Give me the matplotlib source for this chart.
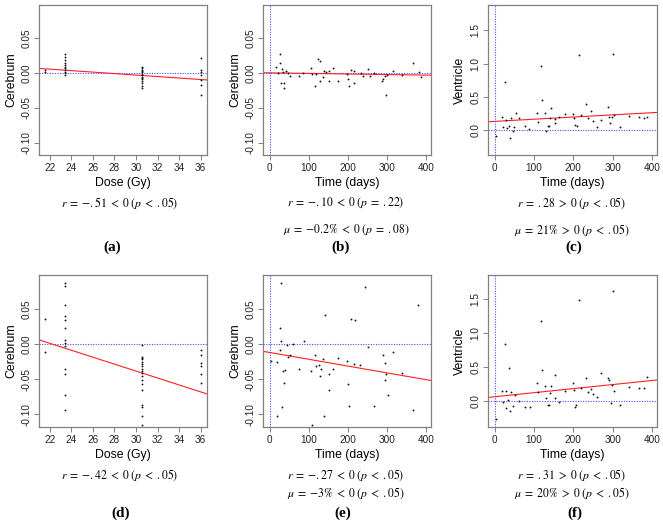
import numpy as np
import matplotlib
matplotlib.use("Agg")
import matplotlib.pyplot as plt

plt.rcParams['font.family'] = ['Liberation Sans', 'DejaVu Sans']
plt.rcParams['axes.unicode_minus'] = False
plt.rcParams['mathtext.fontset'] = 'stix'

# ---------------- data ----------------
# (a) Cerebrum vs dose
dose_a = [21.6, 21.6] + [23.4] * 11 + [30.6] * 14 + [36.0] * 7
cer_a = [0.005, 0.002,
         0.027, 0.0235, 0.019, 0.015, 0.012, 0.009, 0.007, 0.004, 0.002, 0.000, -0.003,
         0.009, 0.007, 0.005, 0.003, 0.001, -0.001, -0.003, -0.005, -0.007, -0.009, -0.012, -0.015, -0.019, -0.022,
         0.021, 0.004, 0.002, -0.003, -0.010, -0.017, -0.031]
fit_a = (0.0292, -0.00107)

# (d) Cerebrum vs dose
dose_d = [21.6] * 2 + [23.4] * 13 + [30.6] * 18 + [36.0] * 6
cer_d = [0.035, -0.012,
         0.087, 0.082, 0.056, 0.040, 0.034, 0.023, 0.005, 0.001, -0.003, -0.035, -0.043, -0.072, -0.094,
         -0.002, -0.018, -0.020, -0.022, -0.025, -0.028, -0.032, -0.035, -0.038, -0.041, -0.046, -0.051,
         -0.057, -0.065, -0.087, -0.089, -0.103, -0.115,
         -0.008, -0.016, -0.027, -0.032, -0.042, -0.055]
fit_d = (0.1097, -0.00494)

# (b) Cerebrum vs time
time_b = [17, 21, 26, 27, 28, 31, 34, 36, 38, 41, 47, 51, 74, 85, 105, 108, 117, 119, 125, 129,
          128, 136, 140, 145, 151, 153, 162, 176, 198, 200, 202, 207, 215, 217, 234, 238, 251, 258,
          268, 287, 291, 294, 298, 300, 315, 340, 366, 383, 387]
cer_b = [0.009, 0.0005, 0.027, 0.014, -0.015, 0.006, 0.002, -0.014, -0.022, 0.003, -0.0005, -0.004,
         -0.004, 0.0005, 0.007, -0.0015, -0.019, -0.0015, 0.020, 0.017, -0.012, -0.006, 0.003, 0.002,
         -0.011, 0.003, 0.008, -0.011, -0.0015, -0.008, -0.019, 0.005, -0.015, 0.003, -0.0005, -0.004,
         0.006, -0.004, 0.0005, -0.012, -0.008, -0.004, -0.031, -0.003, 0.003, -0.003, 0.015, 0.001, -0.006]
fit_b = (0.0003, -0.0000081)

# (e) Cerebrum vs time
time_e = [3, 19, 20, 26, 27, 28, 30, 31, 34, 37, 40, 44, 47, 51, 60, 74, 88, 106, 108, 117, 119, 126,
          128, 132, 136, 139, 142, 151, 153, 162, 176, 198, 200, 202, 207, 215, 219, 232, 244, 251,
          268, 289, 294, 296, 298, 302, 317, 340, 366, 380]
cer_e = [-0.024, -0.026, -0.103, -0.008, 0.022, 0.004, 0.087, -0.089, -0.038, -0.056, -0.037, -0.002,
         -0.019, -0.016, 0.0, -0.035, 0.004, -0.038, -0.115, -0.016, -0.032, -0.030, -0.045, -0.035,
         -0.021, -0.103, 0.041, -0.043, -0.065, -0.035, -0.020, -0.024, -0.057, -0.088, 0.035, -0.028,
         0.034, -0.030, 0.081, -0.005, -0.088, -0.016, -0.027, -0.051, -0.043, -0.072, -0.011, -0.041,
         -0.094, 0.056]
fit_e = (-0.0121, -0.0000965)

# (c) Ventricle vs time
time_c = [3, 19, 21, 27, 29, 31, 36, 38, 42, 46, 48, 53, 61, 76, 88, 108, 110, 119, 120, 129, 131,
          136, 139, 142, 144, 153, 154, 163, 178, 198, 201, 205, 209, 215, 220, 232, 237, 245, 251,
          260, 271, 288, 290, 294, 298, 300, 303, 319, 341, 366, 381, 387]
ven_c = [-0.09, 0.19, 0.04, 0.725, 0.15, 0.025, 0.06, -0.125, 0.175, -0.015, 0.05, 0.25, 0.175, 0.06,
         0.01, 0.25, 0.125, 0.96, 0.45, 0.26, -0.01, 0.06, 0.06, 0.175, 0.325, 0.11, 0.16, 0.2, 0.24,
         0.24, 0.175, 0.075, 0.06, 1.125, 0.225, 0.39, 0.175, 0.29, 0.14, 0.05, 0.15, 0.34, 0.2, 0.1,
         0.2, 1.14, 0.225, 0.04, 0.21, 0.2, 0.175, 0.2]
fit_c = (0.1305, 0.000326)

# (f) Ventricle vs time
time_f = [3, 19, 21, 27, 29, 30, 33, 36, 38, 42, 46, 51, 61, 76, 89, 108, 110, 119, 120, 129, 131,
          136, 139, 142, 144, 153, 154, 163, 178, 198, 201, 205, 208, 215, 220, 233, 237, 245, 251,
          260, 271, 288, 290, 297, 298, 300, 303, 319, 341, 366, 381, 387]
ven_f = [-0.265, 0.148, -0.01, 0.84, -0.108, 0.148, 0.015, 0.49, -0.148, 0.138, -0.074, 0.089, 0.005,
         -0.084, -0.084, 0.27, 0.138, 1.18, 0.45, 0.226, 0.04, -0.05, -0.06, 0.113, 0.226, 0.39, 0.04,
         -0.01, 0.148, 0.26, 0.162, -0.084, -0.06, 1.48, 0.187, 0.335, 0.138, 0.177, 0.098, 0.064, 0.41,
         0.344, 0.31, -0.034, 0.236, 1.61, 0.148, -0.06, 0.21, 0.197, 0.187, 0.36]
fit_f = (0.064, 0.000595)

stats_a = [r"$r\;=\;{-}.51\;<\;0\;(p\;<\;.05)$"]
stats_b = [r"$r\;=\;{-}.10\;<\;0\;(p\;=\;.22)$", r"$\mu\;=\;{-}0.2\%\;<\;0\;(p\;=\;.08)$"]
stats_c = [r"$r\;=\;.28\;>\;0\;(p\;<\;.05)$", r"$\mu\;=\;21\%\;>\;0\;(p\;<\;.05)$"]
stats_d = [r"$r\;=\;{-}.42\;<\;0\;(p\;<\;.05)$"]
stats_e = [r"$r\;=\;{-}.27\;<\;0\;(p\;<\;.05)$", r"$\mu\;=\;{-}3\%\;<\;0\;(p\;<\;.05)$"]
stats_f = [r"$r\;=\;.31\;>\;0\;(p\;<\;.05)$", r"$\mu\;=\;20\%\;>\;0\;(p\;<\;.05)$"]

cer_ticks = [-0.10, -0.05, 0.00, 0.05]
ven_ticks = [0.0, 0.5, 1.0, 1.5]
dose_ticks = [22, 24, 26, 28, 30, 32, 34, 36]
time_ticks = [0, 100, 200, 300, 400]

# ---------------- figure ----------------
W, H = 663, 530
fig = plt.figure(figsize=(W / 100, H / 100), dpi=100)

def px_axes(x0, y0, x1, y1):
    return fig.add_axes([x0 / W, 1 - y1 / H, (x1 - x0) / W, (y1 - y0) / H])

def ftext(x, y, s, **kw):
    fig.text(x / W, 1 - y / H, s, ha='center', va='center', **kw)

GRAY = '#808080'
BLUE = '#4a4aff'

def panel(box, x, y, fit, xlim, ylim, xticks, yticks, yfmt, xlabel, ylabel, timeplot):
    ax = px_axes(*box)
    ax.set_xlim(*xlim)
    ax.set_ylim(*ylim)
    for s in ax.spines.values():
        s.set_color(GRAY)
        s.set_linewidth(0.9)
    ax.set_xticks(xticks)
    ax.set_yticks(yticks)
    ax.set_yticklabels([yfmt.format(v) for v in yticks], rotation=90, va='center')
    ax.tick_params(direction='out', length=3.5, width=0.7, color=GRAY, labelsize=7.2,
                   pad=2, labelcolor='#222222')
    ax.set_xlabel(xlabel, fontsize=8.8, labelpad=3)
    ax.set_ylabel(ylabel, fontsize=8.8, labelpad=3)
    ax.axhline(0, color=BLUE, linestyle=(0, (1, 1.3)), linewidth=0.8, zorder=1)
    if timeplot:
        ax.axvline(0, color=BLUE, linestyle=(0, (1, 1.3)), linewidth=0.8, zorder=1)
    xs = np.array(xlim)
    ax.plot(xs, fit[0] + fit[1] * xs, color='#ff2020', linewidth=0.8, zorder=2)
    ax.scatter(x, y, s=1.8, color='#111111', linewidths=0, zorder=3)
    return ax

cer_lim = (-0.118, 0.098)
dose_lim = (21.02, 36.58)
time_lim = (-17, 413)

panel((39, 5, 207, 155), dose_a, cer_a, fit_a, dose_lim, cer_lim, dose_ticks, cer_ticks,
      "{:.2f}", "Dose (Gy)", "Cerebrum", False)
panel((263, 5, 431, 155), time_b, cer_b, fit_b, time_lim, cer_lim, time_ticks, cer_ticks,
      "{:.2f}", "Time (days)", "Cerebrum", True)
panel((488, 5, 657, 155), time_c, ven_c, fit_c, time_lim, (-0.375, 1.88), time_ticks, ven_ticks,
      "{:.1f}", "Time (days)", "Ventricle", True)
panel((39, 275, 207, 427), dose_d, cer_d, fit_d, dose_lim, cer_lim, dose_ticks, cer_ticks,
      "{:.2f}", "Dose (Gy)", "Cerebrum", False)
panel((263, 275, 431, 427), time_e, cer_e, fit_e, time_lim, cer_lim, time_ticks, cer_ticks,
      "{:.2f}", "Time (days)", "Cerebrum", True)
panel((488, 275, 657, 427), time_f, ven_f, fit_f, time_lim, (-0.38, 1.85), time_ticks, ven_ticks,
      "{:.1f}", "Time (days)", "Ventricle", True)

stat_fs = 8.5
row1 = (203, 230)
row2 = (475, 493)
for cx, lines, rows in [(120, stats_a, row1), (346, stats_b, row1), (572, stats_c, row1),
                        (120, stats_d, row2), (346, stats_e, row2), (572, stats_f, row2)]:
    for s, yy in zip(lines, rows):
        ftext(cx, yy, s, fontsize=stat_fs)

for lab, cx, cy in [("(a)", 112, 247), ("(b)", 341, 247), ("(c)", 574, 247),
                    ("(d)", 121, 513), ("(e)", 343, 513), ("(f)", 575, 513)]:
    ftext(cx, cy, lab, fontsize=11, fontweight='bold', family='Liberation Serif')

fig.savefig("out.png", dpi=100)
